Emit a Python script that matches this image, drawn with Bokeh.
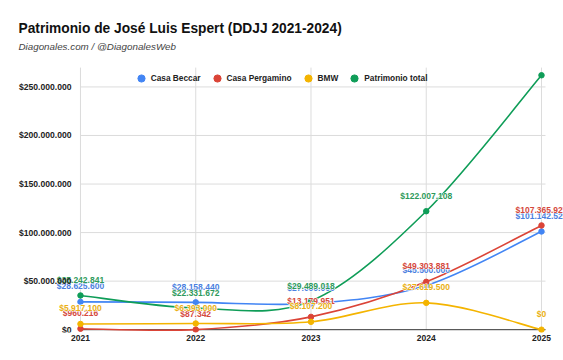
import numpy as np
from bokeh.plotting import figure
from bokeh.models import (ColumnDataSource, Label, Legend, LegendItem, Range1d,
                          FixedTicker, CustomJSTickFormatter)
from bokeh.core.properties import value
from bokeh.embed import file_html
from bokeh.resources import INLINE

# ---------------- data ----------------
years = [2021, 2022, 2023, 2024, 2025]
casa_beccar = [28625600, 28158440, 27000000, 45500000, 101142520]
casa_pergamino = [960216, 87342, 13179951, 49303881, 107365927]
bmw = [5917100, 6393000, 8107200, 27619500, 0]
patrimonio_total = [35242841, 22331672, 29489018, 122007108, 262000000]
series_names = ["Casa Beccar", "Casa Pergamino", "BMW", "Patrimonio total"]
series_values = [casa_beccar, casa_pergamino, bmw, patrimonio_total]
colors = ["#4285F4", "#DB4437", "#F4B400", "#0F9D58"]
label_colors = ["#4a80e0", "#d5483c", "#eab013", "#2e9a5c"]
y_ticks = [0, 50000000, 100000000, 150000000, 200000000, 250000000]

title_text = "Patrimonio de José Luis Espert (DDJJ 2021-2024)"
subtitle_text = "Diagonales.com / @DiagonalesWeb"

FONT = "Liberation Sans"

# plotting-area extents (styling, not data)
Y_BOTTOM, Y_TOP, CHART_TOP = -2.89e6, 339.0e6, 269.9e6
X_LEFT, X_RIGHT, GRID_RIGHT = 2020.306, 2025.191, 2025.035


def fmt_money(v):
    return "$" + f"{int(round(v)):,}".replace(",", ".")


def smooth_segments(xs, ys, t=1.0 / 6.0):
    n = len(xs)
    out = dict(x0=[], y0=[], x1=[], y1=[], cx0=[], cy0=[], cx1=[], cy1=[])
    for i in range(n - 1):
        ip = max(i - 1, 0)
        inn = min(i + 2, n - 1)
        out["x0"].append(xs[i]); out["y0"].append(ys[i])
        out["x1"].append(xs[i + 1]); out["y1"].append(ys[i + 1])
        out["cx0"].append(xs[i] + (xs[i + 1] - xs[ip]) * t)
        out["cy0"].append(ys[i] + (ys[i + 1] - ys[ip]) * t)
        out["cx1"].append(xs[i + 1] - (xs[inn] - xs[i]) * t)
        out["cy1"].append(ys[i + 1] - (ys[inn] - ys[i]) * t)
    return out


p = figure(width=563, height=360, output_backend="svg", toolbar_location=None,
           x_range=Range1d(X_LEFT, X_RIGHT), y_range=Range1d(Y_BOTTOM, Y_TOP),
           min_border_left=0, min_border_right=0, min_border_bottom=28,
           min_border_top=0, background_fill_color="white",
           border_fill_color="white")
p.outline_line_color = None
p.yaxis.visible = False
p.xgrid.visible = False
p.ygrid.visible = False

# x axis
p.xaxis.ticker = FixedTicker(ticks=years)
p.xaxis.formatter = CustomJSTickFormatter(code="return String(Math.round(tick));")
ax = p.xaxis[0]
ax.axis_line_color = None
ax.major_tick_line_color = None
ax.minor_tick_line_color = None
ax.major_tick_out = 0
ax.major_tick_in = 0
ax.major_label_text_font = FONT
ax.major_label_text_font_style = "bold"
ax.major_label_text_color = "#222222"
ax.major_label_text_font_size = "8.5px"
ax.major_label_standoff = 2

# grid lines
grid_color = "#dcdcdc"
p.segment(x0=years, x1=years, y0=[0] * len(years), y1=[CHART_TOP] * len(years),
          line_color=grid_color, line_width=1)
hy = y_ticks[1:]
p.segment(x0=[years[0]] * len(hy), x1=[GRID_RIGHT] * len(hy), y0=hy, y1=hy,
          line_color=grid_color, line_width=1)
p.segment(x0=[years[0]], x1=[GRID_RIGHT], y0=[y_ticks[0]], y1=[y_ticks[0]],
          line_color="#333333", line_width=1)

# series
legend_items = []
for name, vals, col in zip(series_names, series_values, colors):
    seg = ColumnDataSource(smooth_segments(years, vals))
    p.bezier(x0="x0", y0="y0", x1="x1", y1="y1", cx0="cx0", cy0="cy0",
             cx1="cx1", cy1="cy1", source=seg, line_color=col, line_width=1.6)
    pts = ColumnDataSource(dict(x=years, y=vals))
    r = p.scatter("x", "y", source=pts, size=5.5, fill_color=col, line_color=col)
    legend_items.append(LegendItem(label=name, renderers=[r]))

# data labels (white halo underneath, then coloured text)
for vals, lcol in zip(series_values, label_colors):
    lx = [x for x, v in zip(years, vals) if v <= y_ticks[-1]]
    ly = [v for v in vals if v <= y_ticks[-1]]
    lt = [fmt_money(v) for v in ly]
    common = dict(x=lx, y=ly, text=lt, y_offset=-15.5, text_align="center",
                  text_baseline="middle", text_font=value(FONT),
                  text_font_size="8.5px", text_font_style="bold")
    p.text(text_color="white", text_outline_color="white", **common)
    p.text(text_color=lcol, **common)

# y tick labels (drawn over everything, like the reference)
p.text(x=[years[0]] * len(y_ticks), y=y_ticks, text=[fmt_money(v) for v in y_ticks],
       x_offset=-9, text_align="right", text_baseline="middle",
       text_font=value(FONT), text_font_size="8.6px", text_font_style="bold",
       text_color="#222222")

# titles
p.add_layout(Label(x=18, y=304, x_units="screen", y_units="screen",
                   text=title_text, text_font=FONT, text_font_size="13.75px",
                   text_font_style="bold", text_color="#111111",
                   text_baseline="middle", text_align="left"))
p.add_layout(Label(x=18, y=286.5, x_units="screen", y_units="screen",
                   text=subtitle_text, text_font=FONT, text_font_size="9.8px",
                   text_font_style="italic", text_color="#444444",
                   text_baseline="middle", text_align="left"))

legend = Legend(items=legend_items, orientation="horizontal",
                location=(131.7, 245.5), border_line_color=None,
                background_fill_alpha=0, padding=0, margin=0, spacing=7,
                glyph_width=18, glyph_height=18, label_standoff=1,
                label_text_font=FONT, label_text_font_size="8.3px",
                label_text_font_style="bold", label_text_color="#222222")
p.add_layout(legend)

open("out.html", "w").write(file_html(p, INLINE))
